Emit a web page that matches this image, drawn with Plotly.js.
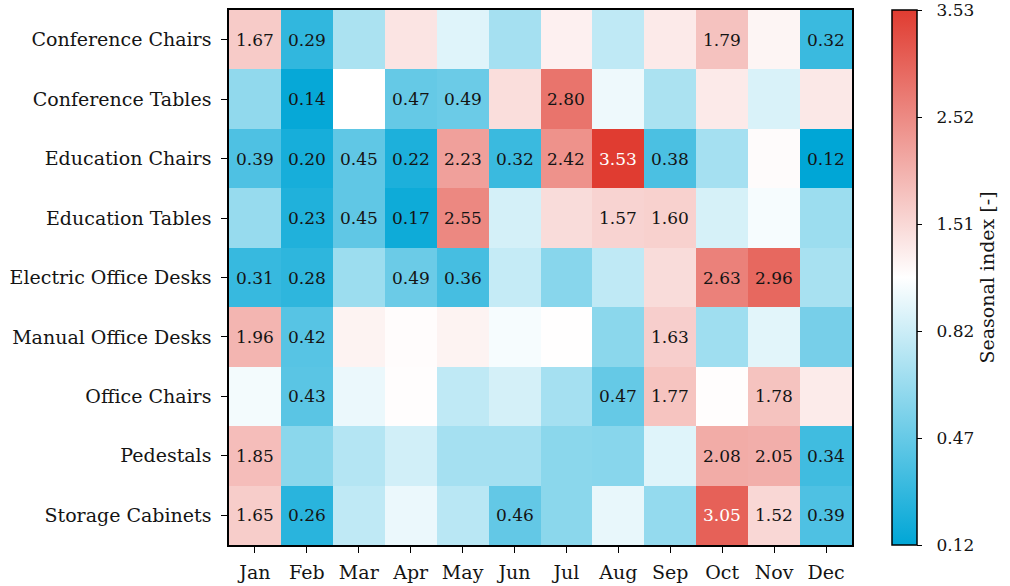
<!DOCTYPE html>
<html>
<head>
<meta charset="utf-8">
<script src="https://cdn.plot.ly/plotly-3.0.1.min.js"></script>
<style>
  html, body { margin: 0; padding: 0; background: #fff; }
  #chart { width: 1010px; height: 586px; }
</style>
</head>
<body>
<div id="chart"></div>
<script>
// Monthly seasonal index per product group
const months = ["Jan", "Feb", "Mar", "Apr", "May", "Jun", "Jul", "Aug", "Sep", "Oct", "Nov", "Dec"];
const products = [
  "Conference Chairs", "Conference Tables", "Education Chairs", "Education Tables",
  "Electric Office Desks", "Manual Office Desks", "Office Chairs", "Pedestals", "Storage Cabinets"
];

const conferenceChairs    = [1.67, 0.29, 0.71, 1.35, 0.89, 0.69, 1.19, 0.78, 1.27, 1.79, 1.13, 0.32];
const conferenceTables    = [0.62, 0.14, 1.00, 0.47, 0.49, 1.43, 2.80, 0.94, 0.71, 1.27, 0.87, 1.30];
const educationChairs     = [0.39, 0.20, 0.45, 0.22, 2.23, 0.32, 2.42, 3.53, 0.38, 0.69, 1.05, 0.12];
const educationTables     = [0.64, 0.23, 0.45, 0.17, 2.55, 0.85, 1.45, 1.57, 1.60, 0.86, 0.97, 0.66];
const electricOfficeDesks = [0.31, 0.28, 0.66, 0.49, 0.36, 0.80, 0.59, 0.78, 1.45, 2.63, 2.96, 0.70];
const manualOfficeDesks   = [1.96, 0.42, 1.16, 1.04, 1.16, 0.97, 1.01, 0.60, 1.63, 0.67, 0.90, 0.53];
const officeChairs        = [0.96, 0.43, 0.93, 1.03, 0.78, 0.85, 0.69, 0.47, 1.77, 1.03, 1.78, 1.26];
const pedestals           = [1.85, 0.60, 0.74, 0.84, 0.69, 0.69, 0.60, 0.59, 0.89, 2.08, 2.05, 0.34];
const storageCabinets     = [1.65, 0.26, 0.78, 0.93, 0.76, 0.46, 0.60, 0.92, 0.63, 3.05, 1.52, 0.39];

const seasonalIndex = [
  conferenceChairs, conferenceTables, educationChairs, educationTables,
  electricOfficeDesks, manualOfficeDesks, officeChairs, pedestals, storageCabinets
];

// Diverging scale: two linear halves meeting at the neutral index 1.0
const vmin = 0.12, vcenter = 1.0, vmax = 3.53;
function norm(v) {
  return v < vcenter
    ? 0.5 * (v - vmin) / (vcenter - vmin)
    : 0.5 + 0.5 * (v - vcenter) / (vmax - vcenter);
}
function inverseNorm(p) {
  return p < 0.5
    ? vmin + (p / 0.5) * (vcenter - vmin)
    : vcenter + ((p - 0.5) / 0.5) * (vmax - vcenter);
}

const zNorm = seasonalIndex.map(row => row.map(norm));
const cbTickVals = [0, 0.2, 0.4, 0.6, 0.8, 1.0];
const cbTickText = cbTickVals.map(p => "\u00a0\u00a0" + inverseNorm(p).toFixed(2));

const FONT = "DejaVu Serif, Liberation Serif, serif";
const INK = "#141414";

// Label only the months that are clearly off-season or peak
const annotations = [];
seasonalIndex.forEach((row, i) => {
  row.forEach((v, j) => {
    if (v < 0.5 || v > 1.5) {
      annotations.push({
        x: months[j], y: products[i], xref: "x", yref: "y",
        text: v.toFixed(2), showarrow: false,
        font: { family: FONT, size: 17, color: norm(v) > 0.9 ? "#ffffff" : INK }
      });
    }
  });
});

const trace = {
  type: "heatmap",
  x: months,
  y: products,
  z: zNorm,
  customdata: seasonalIndex,
  zmin: 0, zmax: 1,
  colorscale: [[0, "rgb(0,166,214)"], [0.5, "rgb(255,255,255)"], [1, "rgb(224,60,49)"]],
  hovertemplate: "%{y}<br>%{x}: %{customdata:.2f}<extra></extra>",
  colorbar: {
    x: 1.064, xanchor: "left", y: 0.5, yanchor: "middle",
    len: 1, lenmode: "fraction", thickness: 25,
    xpad: 0, ypad: 0,
    outlinewidth: 1.5, outlinecolor: "#000",
    tickmode: "array", tickvals: cbTickVals, ticktext: cbTickText,
    ticklabeloverflow: "allow",
    ticks: "outside", ticklen: 5, tickwidth: 1.3, tickcolor: "#000",
    tickfont: { family: FONT, size: 17, color: INK },
    title: { text: "Seasonal index [-]", side: "right", font: { family: FONT, size: 19, color: INK } }
  }
};

const layout = {
  width: 1010, height: 586,
  margin: { l: 229, r: 158, t: 10, b: 41 },
  paper_bgcolor: "#fff", plot_bgcolor: "#fff",
  font: { family: FONT, size: 19, color: INK },
  xaxis: {
    type: "category", showline: true, mirror: true, linecolor: "#000", linewidth: 1.5,
    ticks: "outside", ticklen: 6, tickwidth: 1.3, tickcolor: "#000",
    ticklabelstandoff: 3,
    showgrid: false, zeroline: false, fixedrange: true,
    tickfont: { family: FONT, size: 19, color: INK }
  },
  yaxis: {
    type: "category", autorange: "reversed", showline: true, mirror: true,
    linecolor: "#000", linewidth: 1.5,
    ticks: "outside", ticklen: 6, tickwidth: 1.3, tickcolor: "#000",
    ticklabelstandoff: 6,
    showgrid: false, zeroline: false, fixedrange: true,
    tickfont: { family: FONT, size: 19, color: INK }
  },
  annotations: annotations
};

Plotly.newPlot("chart", [trace], layout, { displayModeBar: false });
</script>
</body>
</html>
